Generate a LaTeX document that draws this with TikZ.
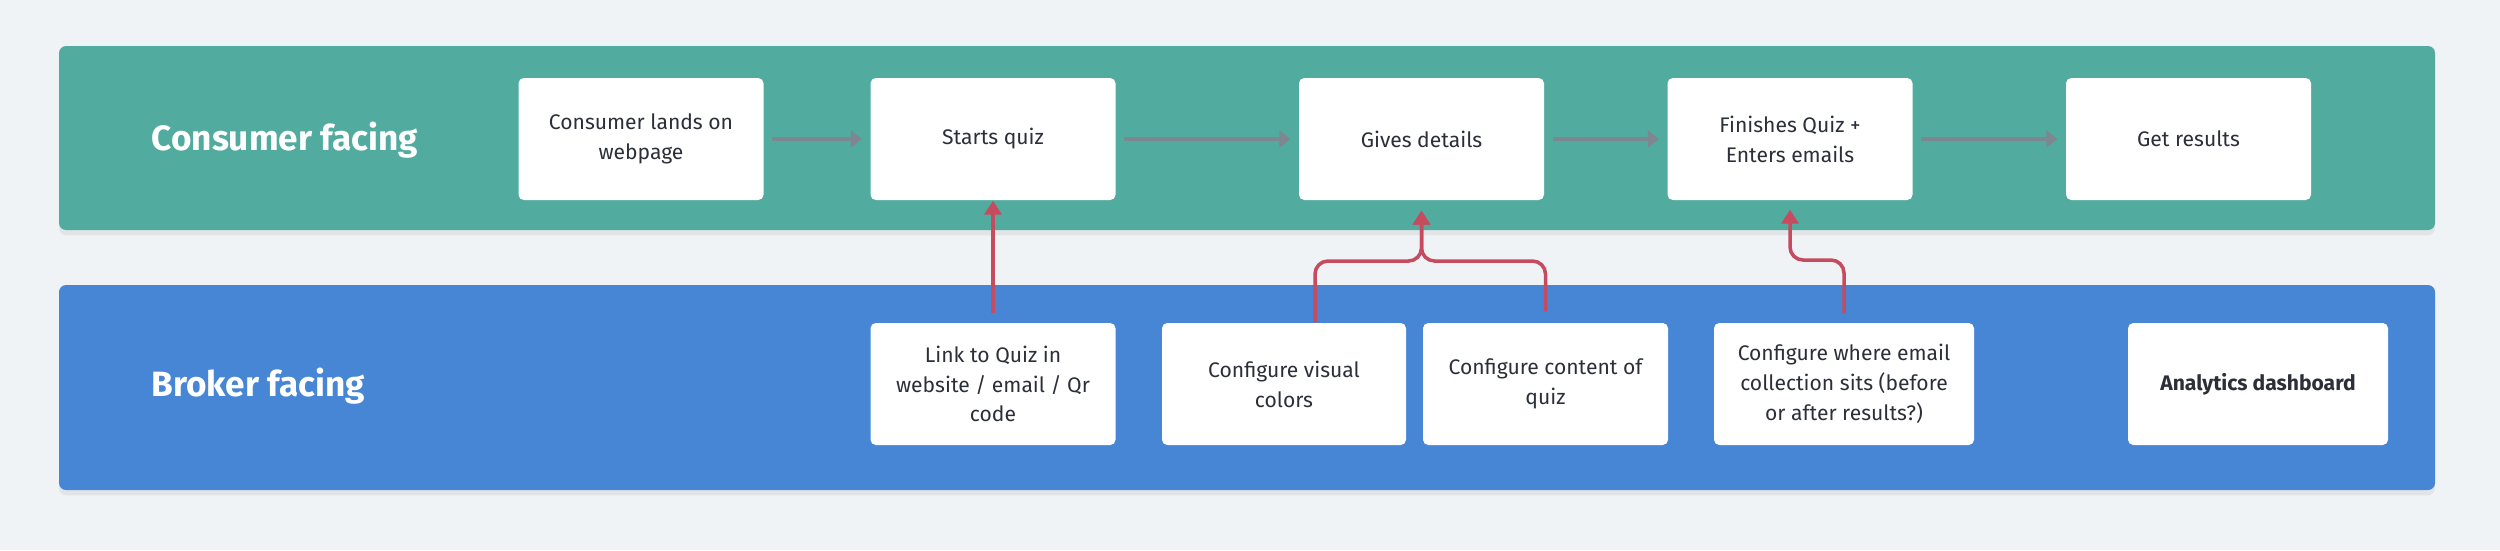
\documentclass[tikz,border=0pt]{standalone}
\usepackage{fontspec}
\setmainfont{Fira Sans}
\usepackage{tikz}
\usetikzlibrary{arrows.meta, positioning, shadows}
\usepackage{xcolor}
\definecolor{pagebg}{HTML}{F0F3F6}
\definecolor{lanegreen}{HTML}{52AB9F}
\definecolor{laneblue}{HTML}{4786D5}
\definecolor{inkdark}{HTML}{2B2F38}
\definecolor{flowgray}{HTML}{7E8791}
\definecolor{linkred}{HTML}{C64B5E}
\tikzset{
  lane/.style={rectangle, rounded corners=2pt, inner sep=0pt,
               drop shadow={shadow xshift=0pt, shadow yshift=-1.5pt, opacity=0.12}},
  lanelabel/.style={anchor=west, text=white, inner sep=0pt,
               font=\fontsize{10}{12}\selectfont\bfseries},
  stepbox/.style={rectangle, fill=white, rounded corners=1.5pt, inner sep=2pt,
               minimum width=2.45cm, minimum height=1.22cm, align=center,
               text=inkdark, font=\fontsize{6}{8.5}\selectfont},
  flow/.style={line width=1.15pt, draw=flowgray,
               -{Triangle[length=0.11cm, width=0.17cm]},
               shorten <=0.08cm, shorten >=0.08cm},
  feed/.style={line width=1pt, draw=linkred, rounded corners=0.13cm,
               -{Triangle[length=0.14cm, width=0.17cm]}},
}
\begin{document}
\begin{tikzpicture}
    \path[use as bounding box, fill=pagebg] (0,0) rectangle (25,5.5);
    % Lanes
    \node[lane, fill=lanegreen, minimum width=23.76cm, minimum height=1.84cm]
      (consumer) at (12.47,4.12) {};
    \node[lane, fill=laneblue, minimum width=23.76cm, minimum height=2.05cm]
      (broker) at (12.47,1.625) {};
    \node[lanelabel] (consumerlbl) at (1.51,4.10) {Consumer facing};
    \node[lanelabel] (brokerlbl) at (1.51,1.64) {Broker facing};
    % Consumer steps
    \node[stepbox] (landing)   at (6.41,4.11)   {Consumer lands on\\webpage};
    \node[stepbox] (startquiz) at (9.93,4.11)   {Starts quiz};
    \node[stepbox] (details)   at (14.215,4.11) {Gives details};
    \node[stepbox] (finish)    at (17.90,4.11)  {Finishes Quiz +\\Enters emails};
    \node[stepbox] (results)   at (21.885,4.11) {Get results};
    % Broker steps
    \node[stepbox] (linkquiz)  at (9.93,1.66)   {Link to Quiz in\\website / email / Qr\\code};
    \node[stepbox, minimum width=2.44cm] (visual) at (12.84,1.66)
      {Configure visual\\colors};
    \node[stepbox] (content)   at (15.455,1.66) {Configure content of\\quiz};
    \node[stepbox, minimum width=2.60cm] (emailpos) at (18.44,1.66)
      {Configure where email\\collection sits (before\\or after results?)};
    \node[stepbox, minimum width=2.60cm, font=\fontsize{6}{8.5}\selectfont\bfseries]
      (analytics) at (22.58,1.66) {Analytics dashboard};
    % Consumer flow
    \draw[flow] (landing) -- (startquiz);
    \draw[flow] (startquiz) -- (details);
    \draw[flow] (details) -- (finish);
    \draw[flow] (finish) -- (results);
    % Broker settings feeding the consumer steps
    \draw[feed, rounded corners=0pt, shorten <=0.09cm] (linkquiz.north) -- (startquiz.south);
    \draw[feed] ([xshift=0.31cm]visual.north) -- (13.15,2.89) -- (14.215,2.89)
      -- ([yshift=-0.10cm]details.south);
    \draw[feed, shorten <=0.11cm] (content.north) -- (15.455,2.89) -- (14.215,2.89)
      -- ([yshift=-0.10cm]details.south);
    \draw[feed, shorten <=0.09cm] (emailpos.north) -- (18.44,2.90) -- (17.90,2.90)
      -- ([yshift=-0.09cm]finish.south);
\end{tikzpicture}
\end{document}
